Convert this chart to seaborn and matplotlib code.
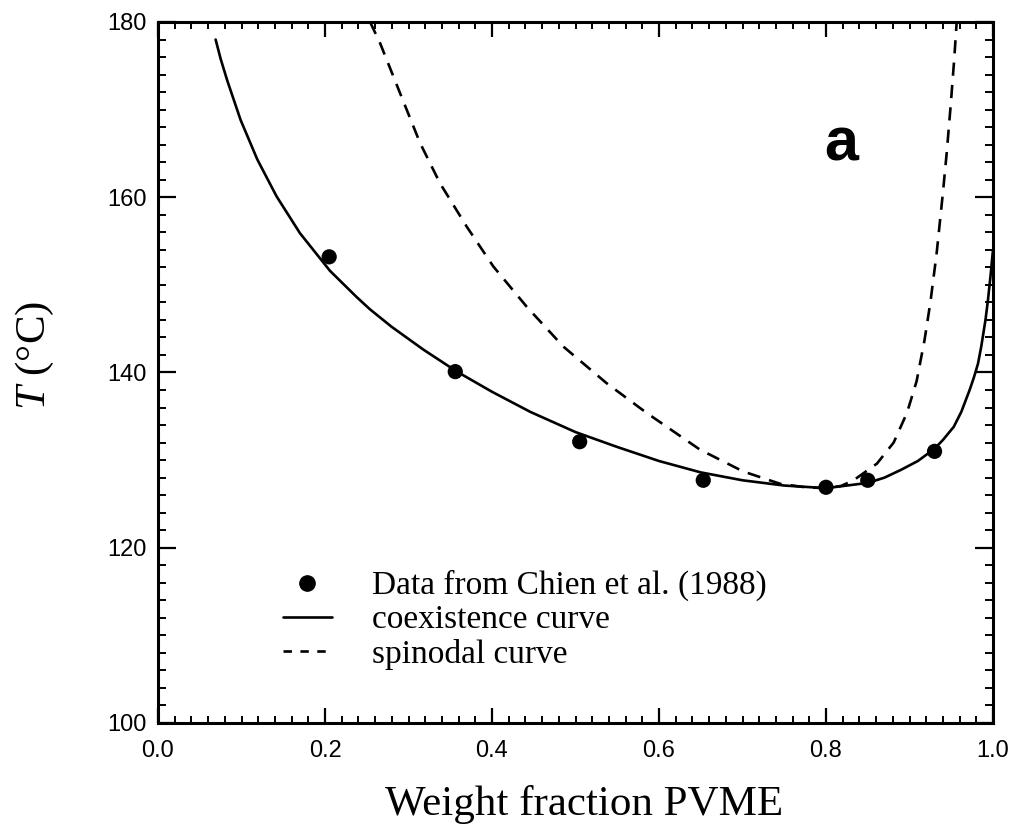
import matplotlib
matplotlib.use("Agg")
import matplotlib.pyplot as plt
from matplotlib.ticker import MultipleLocator, FixedLocator
from matplotlib.lines import Line2D
import seaborn as sns
import pandas as pd

# Measured cloud points (Chien et al., 1988)
data_w = [0.205, 0.356, 0.505, 0.653, 0.800, 0.850, 0.930]
data_T = [153.2, 140.1, 132.1, 127.7, 126.9, 127.7, 131.0]

# Calculated coexistence (binodal) curve
coex_w = [0.069, 0.075, 0.083, 0.099, 0.119, 0.142, 0.170, 0.206, 0.238, 0.254,
          0.280, 0.318, 0.358, 0.400, 0.446, 0.500, 0.550, 0.600, 0.650, 0.700,
          0.750, 0.800, 0.850, 0.870, 0.890, 0.910, 0.930, 0.940, 0.953, 0.962,
          0.972, 0.977, 0.982, 0.986, 0.991, 0.994, 0.997, 1.000]
coex_T = [178.0, 175.8, 173.3, 168.8, 164.3, 160.1, 155.9, 151.6, 148.6, 147.2,
          145.2, 142.6, 140.1, 137.8, 135.5, 133.2, 131.5, 129.9, 128.6, 127.7,
          127.1, 126.8, 127.4, 128.0, 128.9, 129.9, 131.3, 132.3, 133.8, 135.5,
          138.0, 139.4, 141.0, 143.0, 146.0, 148.3, 151.0, 154.0]

# Calculated spinodal curve
spin_w = [0.254, 0.2659, 0.2898, 0.3138, 0.3377, 0.3697, 0.4016, 0.4416, 0.4854,
          0.537, 0.585, 0.649, 0.701, 0.745, 0.775, 0.800, 0.818, 0.833, 0.861,
          0.881, 0.897, 0.9085, 0.918, 0.925, 0.9325, 0.940, 0.9445, 0.9495,
          0.9535, 0.9565]
spin_T = [180.0, 177.6, 171.9, 166.2, 161.6, 156.65, 152.1, 147.5, 142.96,
          138.8, 135.4, 131.2, 128.7, 127.3, 126.9, 126.8, 127.05, 127.7, 129.6,
          132.0, 135.4, 139.0, 143.7, 148.0, 153.6, 160.5, 165.0, 170.7,
          175.7, 180.0]

labels = ["Data from Chien et al. (1988)", "coexistence curve", "spinodal curve"]
panel_tag = "a"

sns.set_style("ticks")
plt.rcParams["mathtext.fontset"] = "custom"
plt.rcParams["mathtext.rm"] = "Liberation Serif"
plt.rcParams["mathtext.it"] = "Liberation Serif:italic"
for key in ["text.color", "axes.labelcolor", "xtick.color", "ytick.color",
            "axes.edgecolor"]:
    plt.rcParams[key] = "black"

serif = "Liberation Serif"
sans = "Liberation Sans"

fig = plt.figure(figsize=(10.13, 8.35), dpi=100)
pos = [158 / 1013, 112 / 835, 835 / 1013, 701 / 835]
ax = fig.add_axes(pos)

coex_df = pd.DataFrame({"w": coex_w, "T": coex_T})
spin_df = pd.DataFrame({"w": spin_w, "T": spin_T})
data_df = pd.DataFrame({"w": data_w, "T": data_T})

lw = 1.9
sns.lineplot(data=coex_df, x="w", y="T", sort=False, estimator=None,
             color="black", lw=lw, ax=ax)
sns.lineplot(data=spin_df, x="w", y="T", sort=False, estimator=None,
             color="black", lw=lw, ax=ax)
ax.lines[-1].set_dashes((5, 3.5))
for ln in ax.lines:
    ln.set_solid_joinstyle("round")
    ln.set_dash_joinstyle("round")
sns.scatterplot(data=data_df, x="w", y="T", color="black", s=120,
                edgecolor="none", ax=ax, zorder=5)

ax.set_xlim(0.0, 1.0)
ax.set_ylim(100, 180)

# Major / minor ticks, all pointing inward on every side
ax.xaxis.set_minor_locator(MultipleLocator(0.02))
ax.yaxis.set_minor_locator(MultipleLocator(2))
ax.set_xticks([0.0, 0.2, 0.4, 0.6, 0.8, 1.0], ["0.0", "0.2", "0.4", "0.6", "0.8", "1.0"])
ax.set_yticks([100, 120, 140, 160, 180], ["100", "120", "140", "160", "180"])

for side in ax.spines.values():
    side.set_linewidth(2.2)
    side.set_color("black")

ax.tick_params(axis="x", which="major", direction="in", length=11, width=1.6,
               top=True, bottom=True, pad=12, labelsize=17)
ax.tick_params(axis="x", which="minor", direction="in", length=5, width=1.4,
               top=True, bottom=True)
ax.tick_params(axis="y", which="major", direction="in", length=13, width=1.6,
               left=True, right=True, pad=8, labelsize=17)
ax.tick_params(axis="y", which="minor", direction="in", length=6, width=1.4,
               left=True, right=True)
for t in ax.get_xticklabels() + ax.get_yticklabels():
    t.set_fontfamily(sans)

# Intermediate-length ticks at the half-decades
mid = fig.add_axes(pos, frameon=False, zorder=-1)
mid.set_xlim(0.0, 1.0)
mid.set_ylim(100, 180)
mid.xaxis.set_major_locator(FixedLocator([0.1, 0.3, 0.5, 0.7, 0.9]))
mid.yaxis.set_major_locator(FixedLocator([110, 130, 150, 170]))
mid.xaxis.set_minor_locator(FixedLocator([]))
mid.yaxis.set_minor_locator(FixedLocator([]))
mid.tick_params(axis="x", direction="in", length=8, width=1.5, top=True,
                bottom=True, labelbottom=False, labeltop=False)
mid.tick_params(axis="y", direction="in", length=10, width=1.5, left=True,
                right=True, labelleft=False, labelright=False)
mid.patch.set_visible(False)

ax.set_xlabel("Weight fraction PVME", fontsize=31, fontfamily=serif)
ax.set_ylabel("$T$ (°C)", fontsize=31, fontfamily=serif)
ax.xaxis.set_label_coords(0.51, -0.088)
ax.yaxis.set_label_coords(-0.122, 0.525)

ax.text(0.818, 0.825, panel_tag, transform=ax.transAxes, fontsize=44,
        fontweight="bold", fontfamily=sans, ha="center", va="center",
        color="black")

handles = [
    Line2D([], [], marker="o", ms=11, color="black", ls="none"),
    Line2D([], [], color="black", lw=lw),
    Line2D([], [], color="black", lw=lw, dashes=(3.2, 3.2)),
]
leg = ax.legend(handles, labels, loc="upper left", bbox_to_anchor=(0.150, 0.218),
                frameon=False, prop={"family": serif, "size": 24},
                handlelength=1.45, handletextpad=1.2, labelspacing=0.1,
                borderpad=0, borderaxespad=0, labelcolor="black")

fig.savefig("out.png", dpi=100, facecolor="white")
